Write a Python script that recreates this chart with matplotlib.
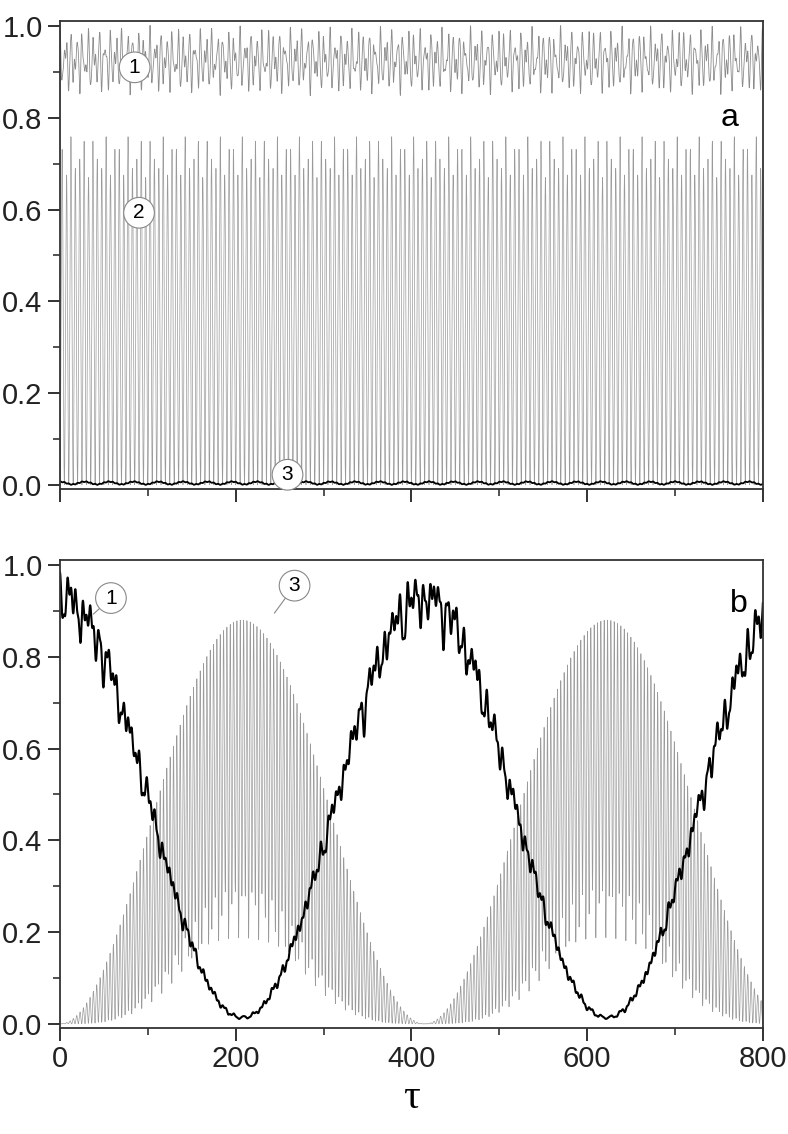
import numpy as np
import matplotlib
matplotlib.use("Agg")
import matplotlib.pyplot as plt
from matplotlib.ticker import MultipleLocator

# values
tau_range = [0, 800]
y_range = [-0.009, 1.011]
x_ticks = [0, 200, 400, 600, 800]
y_ticks = [0.0, 0.2, 0.4, 0.6, 0.8, 1.0]

# panel a: curve 1 (mean, fast periods, amplitudes)
a1_mean = 0.925
a1_periods = [6.4, 4.1, 2.7]
a1_amps = [0.038, 0.027, 0.012]
# panel a: curve 2 (peak heights swing 0.67..0.76, period ~5)
a2_period = 5.0
a2_peak = [0.715, 0.045]
a2_beat = 13.0
# panel a: curve 3 (near zero, bumps every ~28)
a3_level = [0.004, 0.003]
a3_period = 28.0

# panel b: curve 1 (slow exchange, period ~415, wiggles ~9, ~4 and ~11)
b_slow = 415.0
b1_max, b1_min = 0.975, 0.014
b1_wiggle = [9.0, 0.10, 4.3, 0.035, 0.006]
# panel b: curve 3 (envelope 0.88 / 0.25 at tau~207, fast period ~3.8)
b3_upper = 0.88
b3_lower = 0.25
b3_period = 3.8
b3_beat = [11.0, 0.25]

labels_a = [("1", 85, 0.91), ("2", 90, 0.593), ("3", 259, 0.022)]
labels_b = [("1", 58, 0.928, 38, 0.893), ("3", 267, 0.955, 244, 0.895)]

tau = np.linspace(tau_range[0], tau_range[1], 40001)

# build curves
a1 = a1_mean + sum(a * np.cos(2 * np.pi * tau / p) for a, p in zip(a1_amps, a1_periods))
amp2 = a2_peak[0] + a2_peak[1] * np.cos(2 * np.pi * tau / a2_beat)
a2 = amp2 * (1 - np.cos(2 * np.pi * tau / a2_period)) / 2
a3 = a3_level[0] + a3_level[1] * np.cos(2 * np.pi * tau / a3_period) \
     + 0.001 * np.cos(2 * np.pi * tau / 5.0)

slow = (1 + np.cos(2 * np.pi * tau / b_slow)) / 2
b1 = b1_min + (b1_max - b1_min) * slow
b1 = b1 - b1_wiggle[1] * slow * (1 - np.cos(2 * np.pi * tau / b1_wiggle[0])) / 2 \
     * (0.6 + 0.4 * np.cos(2 * np.pi * tau / 23.0)) \
     - b1_wiggle[3] * np.sqrt(slow) * (1 - np.cos(2 * np.pi * tau / b1_wiggle[2])) / 2 \
     + b1_wiggle[4] * (0.5 + np.sqrt(slow)) * np.cos(2 * np.pi * tau / 11.0)
b1 = np.clip(b1, 0.004, 1)
s2 = np.sin(np.pi * tau / b_slow) ** 2
up = b3_upper * s2
lo = b3_lower * s2 ** 2 * (1 + b3_beat[1] * np.cos(2 * np.pi * tau / b3_beat[0]))
b3 = lo + (up - lo) * (1 + np.cos(2 * np.pi * tau / b3_period)) / 2

plt.rcParams["font.family"] = ["Liberation Sans Narrow", "Liberation Sans", "DejaVu Sans"]

fig = plt.figure(figsize=(7.88, 11.34), dpi=100)
ax_a = fig.add_axes([0.0761, 0.5688, 0.892, 0.4127])
ax_b = fig.add_axes([0.0761, 0.0935, 0.892, 0.4127])

ax_a.plot(tau, a2, color="#9a9a9a", lw=0.5)
ax_a.plot(tau, a1, color="#8c8c8c", lw=0.6)
ax_a.plot(tau, a3, color="black", lw=1.3)

ax_b.plot(tau, b3, color="#9a9a9a", lw=0.5)
ax_b.plot(tau, b1, color="black", lw=1.5)

for ax in (ax_a, ax_b):
    ax.set_xlim(*tau_range)
    ax.set_ylim(*y_range)
    ax.set_xticks(x_ticks)
    ax.set_yticks(y_ticks)
    ax.set_yticklabels([f"{v:.1f}" for v in y_ticks])
    ax.xaxis.set_minor_locator(MultipleLocator(100))
    ax.yaxis.set_minor_locator(MultipleLocator(0.1))
    ax.tick_params(which="major", direction="out", length=9, width=1.3,
                   labelsize=21, colors="#222222")
    ax.tick_params(which="minor", direction="out", length=5, width=1.1, colors="#222222")
    for s in ax.spines.values():
        s.set_linewidth(1.3)
        s.set_color("#333333")

ax_a.set_xticklabels([])
ax_b.set_xlabel("τ", family=["Liberation Serif", "DejaVu Serif"], fontsize=30, labelpad=4)

circ = dict(boxstyle="circle,pad=0.28", fc="white", ec="#888888", lw=0.8)
for t, x, y in labels_a:
    ax_a.text(x, y, t, ha="center", va="center", fontsize=15, bbox=circ, zorder=5)
for t, x, y, xc, yc in labels_b:
    ax_b.annotate(t, xy=(xc, yc), xytext=(x, y), ha="center", va="center", fontsize=15,
                  bbox=circ, zorder=5,
                  arrowprops=dict(arrowstyle="-", color="#888888", lw=0.8,
                                  shrinkA=0, shrinkB=0))

ax_a.text(762, 0.80, "a", ha="center", va="center", fontsize=23)
ax_b.text(773, 0.915, "b", ha="center", va="center", fontsize=23)

fig.savefig("out.png", dpi=100)
